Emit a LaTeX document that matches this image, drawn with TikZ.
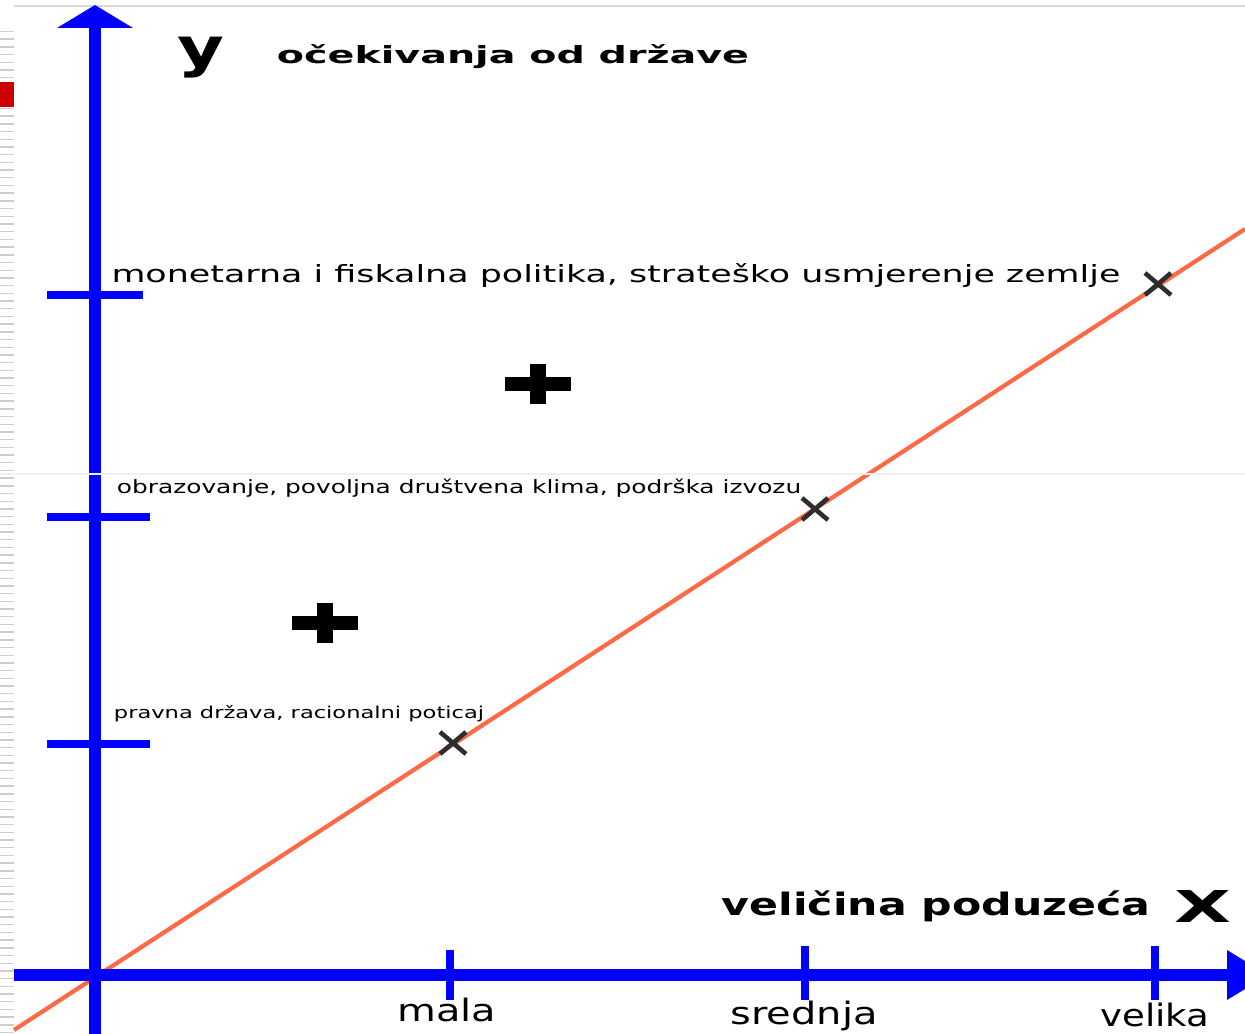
\documentclass[tikz,border=0pt]{standalone}
\usepackage{fontspec}
\setmainfont{DejaVu Sans}
\definecolor{axisblue}{RGB}{0,0,255}
\definecolor{trend}{RGB}{255,105,70}
\definecolor{markgray}{RGB}{45,45,45}
\definecolor{stripe}{RGB}{205,205,205}
\definecolor{tabred}{RGB}{204,0,0}
\tikzset{
  axisline/.style={draw=axisblue, line width=6.8pt},
  tickline/.style={draw=axisblue, line width=5pt},
  crossmark/.style={draw=markgray, line width=2.6pt},
  plusmark/.style={draw=black, line width=8pt},
  levellabel/.style={anchor=base, inner sep=0pt, transform shape},
}
\begin{document}
\begin{tikzpicture}[x=0.02cm,y=-0.02cm]
\clip (0,0) rectangle (1245,1034);
\useasboundingbox (0,0) rectangle (1245,1034);

% left margin
\foreach \j in {0,7.7,...,1034} {
  \fill[stripe] (0,\j) rectangle (14,\j+1.4);
}
\fill[white] (0,0) rectangle (14,30);
\fill[tabred] (0,82) rectangle (14,107);
\draw[gray!30, line width=0.6pt] (14,6) -- (1245,6);

% trend line
\draw[trend, line width=2.4pt] (14,1030) -- (1245,229);

% axes
\draw[axisline] (95,1034) -- (95,26);
\fill[axisblue] (57,28) -- (95,5) -- (133,28) -- cycle;
\draw[axisline] (14,975) -- (1230,975);
\fill[axisblue] (1227,950) -- (1268,975) -- (1227,1000) -- cycle;

% ticks
\draw[tickline] (47,295) -- (143,295);
\draw[tickline] (47,517) -- (150,517);
\draw[tickline] (47,744) -- (150,744);
\draw[tickline] (450,950) -- (450,1000);
\draw[tickline] (805,946) -- (805,1000);
\draw[tickline] (1155,946) -- (1155,1000);

% points on the line
\foreach \px/\py in {453/743, 815/509, 1158/284} {
  \draw[crossmark] (\px-13,\py-11) -- (\px+13,\py+11);
  \draw[crossmark] (\px-13,\py+11) -- (\px+13,\py-11);
}

% plus signs
\foreach \px/\py in {538/384, 325/623} {
  \draw[plusmark] (\px-33,\py) -- (\px+33,\py);
  \draw[plusmark, line width=9.5pt] (\px,\py-20) -- (\px,\py+20);
}

\draw[gray!12, line width=0.6pt] (0,474) -- (1245,474);

% labels
\node[levellabel, xscale=1.34, font=\bfseries\fontsize{30.6}{32}\selectfont] (ylab) at (201,67) {y};
\node[levellabel, xscale=1.67, font=\bfseries\fontsize{13.5}{16}\selectfont] (ytitle) at (513,64) {očekivanja od države};
\node[levellabel, xscale=1.47, font=\fontsize{13.5}{16}\selectfont] (high) at (616,282) {monetarna i fiskalna politika, strateško usmjerenje zemlje};
\node[levellabel, xscale=1.36, font=\fontsize{10.4}{12}\selectfont] (mid) at (459,493) {obrazovanje, povoljna društvena klima, podrška izvozu};
\node[levellabel, xscale=1.38, font=\fontsize{9.3}{11}\selectfont] (low) at (299,718) {pravna država, racionalni poticaj};
\node[levellabel, xscale=1.38, font=\bfseries\fontsize{17.6}{20}\selectfont] (xtitle) at (936,915) {veličina poduzeća};
\node[levellabel, xscale=1.68, font=\bfseries\fontsize{25}{28}\selectfont] (xlab) at (1203,922) {X};
\node[levellabel, xscale=1.29, font=\fontsize{17.6}{20}\selectfont] (small) at (447,1021) {mala};
\node[levellabel, xscale=1.29, font=\fontsize{17.6}{20}\selectfont] (medium) at (804,1024) {srednja};
\node[levellabel, xscale=1.2, font=\fontsize{17.6}{20}\selectfont] (large) at (1155,1026) {velika};

\end{tikzpicture}
\end{document}
